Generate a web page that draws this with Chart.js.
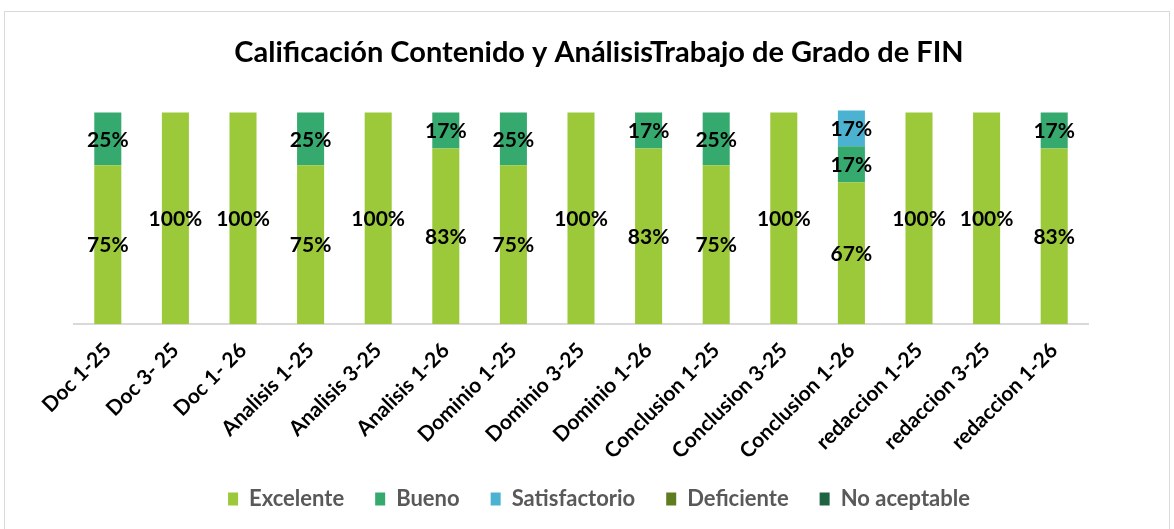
<!DOCTYPE html>
<html>
<head>
<meta charset="utf-8">
<script src="https://cdn.jsdelivr.net/npm/chart.js@4"></script>
<style>
  body { margin: 0; background: #fff; }
  #wrap { position: relative; width: 1174px; height: 529px; overflow: hidden; }
  #frame { position: absolute; left: 4px; top: 11px; width: 1166px; height: 530px; border: 1px solid #d9d9d9; box-sizing: border-box; }
  canvas { position: absolute; left: 0; top: 0; }
</style>
</head>
<body>
<div id="wrap">
  <div id="frame"></div>
  <canvas id="chart" width="1174" height="529"></canvas>
</div>
<script>
const categories = ["Doc 1-25", "Doc 3- 25", "Doc 1- 26", "Analisis 1-25", "Analisis 3-25", "Analisis 1-26",
  "Dominio 1-25", "Dominio 3-25", "Dominio 1-26", "Conclusion 1-25", "Conclusion 3-25", "Conclusion 1-26",
  "redaccion 1-25", "redaccion 3-25", "redaccion 1-26"];
const excelente = [0.75, 1, 1, 0.75, 1, 0.83, 0.75, 1, 0.83, 0.75, 1, 0.67, 1, 1, 0.83];
const bueno = [0.25, 0, 0, 0.25, 0, 0.17, 0.25, 0, 0.17, 0.25, 0, 0.17, 0, 0, 0.17];
const satisfactorio = [0, 0, 0, 0, 0, 0, 0, 0, 0, 0, 0, 0.17, 0, 0, 0];
const deficiente = [0, 0, 0, 0, 0, 0, 0, 0, 0, 0, 0, 0, 0, 0, 0];
const noAceptable = [0, 0, 0, 0, 0, 0, 0, 0, 0, 0, 0, 0, 0, 0, 0];

const font = "Lato, 'Open Sans', sans-serif";

// draws the percent in the middle of each segment
const segmentLabels = {
  id: "segmentLabels",
  afterDatasetsDraw(chart) {
    const ctx = chart.ctx;
    ctx.save();
    ctx.font = "bold 21px " + font;
    ctx.fillStyle = "#000";
    ctx.textAlign = "center";
    ctx.textBaseline = "middle";
    chart.data.datasets.forEach((ds, i) => {
      const meta = chart.getDatasetMeta(i);
      meta.data.forEach((bar, j) => {
        const v = ds.data[j];
        if (!v) return;
        const p = bar.getProps(["x", "y", "base"], true);
        ctx.fillText(Math.round(v * 100) + "%", p.x, (p.y + p.base) / 2 + 1);
      });
    });
    ctx.restore();
  }
};

const hiddenAxis = (w) => ({
  display: true,
  grid: { display: false },
  border: { display: false },
  ticks: { display: false },
  afterFit(scale) { scale.width = w; }
});

new Chart(document.getElementById("chart"), {
  type: "bar",
  plugins: [segmentLabels],
  data: {
    labels: categories,
    datasets: [
      { label: "Excelente", data: excelente, backgroundColor: "#9bc93a" },
      { label: "Bueno", data: bueno, backgroundColor: "#36a96f" },
      { label: "Satisfactorio", data: satisfactorio, backgroundColor: "#4bb3d1" },
      { label: "Deficiente", data: deficiente, backgroundColor: "#5e7d21" },
      { label: "No aceptable", data: noAceptable, backgroundColor: "#1e6443" }
    ]
  },
  options: {
    responsive: false,
    animation: false,
    categoryPercentage: 1,
    barPercentage: 0.4,
    layout: { padding: { left: 24, right: 0, top: 0, bottom: 9 } },
    plugins: {
      tooltip: { enabled: false },
      title: {
        display: true,
        text: "Calificación Contenido y AnálisisTrabajo de Grado de FIN",
        color: "#000",
        font: { family: font, size: 29, weight: "bold" },
        padding: { top: 35, bottom: 30 }
      },
      legend: {
        position: "bottom",
        labels: {
          color: "#595959",
          font: { family: font, size: 22, weight: "bold" },
          boxWidth: 10,
          boxHeight: 13,
          padding: 31
        }
      }
    },
    scales: {
      x: {
        stacked: true,
        grid: { display: false },
        border: { display: true, color: "#d9d9d9", width: 2 },
        ticks: {
          color: "#000",
          font: { family: font, size: 21, weight: "bold" },
          maxRotation: 45,
          minRotation: 45,
          padding: 6
        },
        afterFit(scale) { scale.height = 133; }
      },
      y: Object.assign(hiddenAxis(50), { stacked: true, min: 0, max: 1.06 }),
      y2: Object.assign(hiddenAxis(86), { type: "linear", position: "right", min: 0, max: 1 })
    }
  }
});
</script>
</body>
</html>
